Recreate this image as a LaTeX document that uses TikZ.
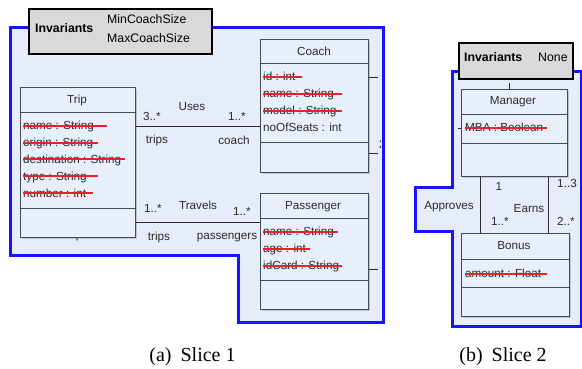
\documentclass[tikz,border=0pt]{standalone}
\usepackage{fontspec}
\setmainfont{Liberation Serif}
\newfontfamily\umlfont{Liberation Sans}
\usetikzlibrary{calc}
\definecolor{sliceblue}{HTML}{1414FF}
\definecolor{slicefill}{HTML}{E6ECFA}
\definecolor{boxfill}{HTML}{E9EFFA}
\definecolor{boxline}{HTML}{434A58}
\definecolor{invfill}{HTML}{D9D9D9}
\definecolor{strikered}{HTML}{E8202A}
\definecolor{txt}{HTML}{2B2B2B}
\tikzset{
 slice/.style={draw=sliceblue, line width=3pt, fill=slicefill, line join=miter},
 umlbox/.style={draw=boxline, line width=1.1pt, fill=boxfill, anchor=north west, inner sep=0pt},
 shadowbox/.style={fill=black!30, draw=none, anchor=north west, inner sep=0pt, opacity=0.7},
 invbox/.style={draw=black, line width=1.6pt, fill=invfill, anchor=north west, inner sep=0pt},
 divider/.style={draw=boxline, line width=0.8pt},
 assoc/.style={draw=txt, line width=0.9pt},
 strikeline/.style={draw=strikered, line width=1.8pt},
 utext/.style={font=\umlfont\fontsize{11.7}{13}\selectfont, inner sep=0pt, text=txt, text height=8.4pt, text depth=2.4pt},
 attr/.style={utext, anchor=west},
 invtext/.style={font=\umlfont\fontsize{12.3}{14}\selectfont, inner sep=0pt, anchor=west, text height=8.8pt, text depth=2.5pt},
 captext/.style={font=\fontsize{20}{24}\selectfont, inner sep=0pt, anchor=base},
}
\begin{document}
\begin{tikzpicture}[x=1pt,y=-1pt]
\useasboundingbox (0,0) rectangle (582,368);
% ---------------- Slice 1 ----------------
\draw[slice] (10,27) -- (383,27) -- (383,322) -- (238,322) -- (238,255) -- (10,255) -- cycle;
\node[utext, font=\umlfont\fontsize{10}{11}\selectfont] (tripstar) at (77,241) {*};
% Trip
\node[shadowbox, minimum width=115, minimum height=150] (tripsh) at (22,89) {};
\node[umlbox, minimum width=115, minimum height=150] (trip) at (20,87) {};
\node[utext] (triptitle) at (77,100) {Trip};
\draw[divider] (trip.west |- 0,112) -- (trip.east |- 0,112);
\node[attr] (t1) at (23,126) {name : String};
\node[attr] (t2) at (23,143) {origin : String};
\node[attr] (t3) at (23,160) {destination : String};
\node[attr] (t4) at (23,177) {type : String};
\node[attr] (t5) at (23,194) {number : int};
\draw[strikeline] (23,126) -- (107,126);
\draw[strikeline] (23,143) -- (98,143);
\draw[strikeline] (23,159) -- (125,159);
\draw[strikeline] (23,176) -- (98,176);
\draw[strikeline] (23,193) -- (93,193);
\draw[divider] (trip.west |- 0,208) -- (trip.east |- 0,208);
% Coach
\node[shadowbox, minimum width=108, minimum height=133] (coachsh) at (262,41) {};
\node[umlbox, minimum width=108, minimum height=133] (coach) at (260,39) {};
\node[utext] (coachtitle) at (314,52) {Coach};
\draw[divider] (coach.west |- 0,63) -- (coach.east |- 0,63);
\node[attr] (c1) at (263,77) {id : int};
\node[attr] (c2) at (263,94) {name : String};
\node[attr] (c3) at (263,111) {model : String};
\node[attr] (c4) at (263,128) {noOfSeats : int};
\draw[strikeline] (263,77) -- (302,77);
\draw[strikeline] (263,94) -- (342,94);
\draw[strikeline] (263,111) -- (342,111);
\draw[divider] (coach.west |- 0,142) -- (coach.east |- 0,142);
% Passenger
\node[shadowbox, minimum width=108, minimum height=116] (passsh) at (262,195) {};
\node[umlbox, minimum width=108, minimum height=116] (pass) at (260,193) {};
\node[utext] (passtitle) at (313,206) {Passenger};
\draw[divider] (pass.west |- 0,218) -- (pass.east |- 0,218);
\node[attr] (p1) at (263,232) {name : String};
\node[attr] (p2) at (263,249) {age : int};
\node[attr] (p3) at (263,266) {idCard : String};
\draw[strikeline] (263,232) -- (338,232);
\draw[strikeline] (263,249) -- (310,249);
\draw[strikeline] (263,266) -- (342,266);
\draw[divider] (pass.west |- 0,280) -- (pass.east |- 0,280);
% associations
\draw[assoc] (trip.east |- 0,126) -- (coach.west |- 0,126);
\node[utext] (uses) at (192,107) {Uses};
\node[utext] (m1) at (152,117) {3..*};
\node[utext] (m2) at (237,117) {1..*};
\node[utext] (r1) at (157,140) {trips};
\node[utext] (r2) at (234,141) {coach};
\draw[assoc] (trip.east |- 0,222) -- (pass.west |- 0,222);
\node[utext] (travels) at (198,206) {Travels};
\node[utext] (m3) at (153,209) {1..*};
\node[utext] (m4) at (242,212) {1..*};
\node[utext] (r3) at (159,237) {trips};
\node[utext] (r4) at (227,236) {passengers};
% stubs leaving the slice
\coordinate (s1) at (378,77);
\coordinate (s2) at (378,153);
\coordinate (s3) at (378,269);
\draw[assoc] (coach.east |- s1) -- (s1);
\draw[assoc] (coach.east |- s2) -- (s2);
\draw[assoc] (pass.east |- s3) -- (s3);
\begin{scope}
\clip (370,130) rectangle (380.5,160);
\node[utext] (two) at (382.5,145) {2};
\end{scope}
% Invariants 1
\node[invbox, minimum width=183, minimum height=45] (inv1) at (28,8) {};
\node[invtext, font=\umlfont\bfseries\fontsize{12.3}{14}\selectfont] (inv1h) at (35,29) {Invariants};
\node[invtext] (inv1a) at (107,20) {MinCoachSize};
\node[invtext] (inv1b) at (107,39) {MaxCoachSize};
% ---------------- Slice 2 ----------------
\draw[slice] (452,71) -- (581,71) -- (581,326) -- (452,326) -- (452,231) -- (415,231) -- (415,187) -- (452,187) -- cycle;
% Manager
\node[shadowbox, minimum width=106, minimum height=87] (mgrsh) at (463,91) {};
\node[umlbox, minimum width=106, minimum height=87] (mgr) at (461,89) {};
\node[utext] (mgrtitle) at (513,101) {Manager};
\draw[divider] (mgr.west |- 0,114) -- (mgr.east |- 0,114);
\node[attr] (mg1) at (465,128) {MBA : Boolean};
\draw[strikeline] (465,128) -- (547,128);
\draw[divider] (mgr.west |- 0,143) -- (mgr.east |- 0,143);
% Bonus
\node[shadowbox, minimum width=108, minimum height=83] (bonsh) at (463,235) {};
\node[umlbox, minimum width=108, minimum height=83] (bonus) at (461,233) {};
\node[utext] (bontitle) at (514,246) {Bonus};
\draw[divider] (bonus.west |- 0,259) -- (bonus.east |- 0,259);
\node[attr] (b1) at (465,274) {amount : Float};
\draw[strikeline] (465,274) -- (547,274);
\draw[divider] (bonus.west |- 0,287) -- (bonus.east |- 0,287);
% associations
\draw[assoc] (mgr.south -| 480,0) -- (bonus.north -| 480,0);
\draw[assoc] (mgr.south -| 548,0) -- (bonus.north -| 548,0);
\node[utext] (appr) at (449,206) {Approves};
\node[utext] (q1) at (499,187) {1};
\node[utext] (q2) at (500,222) {1..*};
\node[utext] (earns) at (529,209) {Earns};
\node[utext] (q3) at (567,184) {1..3};
\node[utext] (q4) at (566,222) {2..*};
% stubs
\coordinate (u1) at (509,83);
\draw[assoc] (u1) -- (mgr.north -| u1);
\coordinate (u2) at (458,128);
\draw[assoc] (u2) -- (mgr.west |- u2);
% Invariants 2
\node[invbox, minimum width=114, minimum height=36] (inv2) at (458,42) {};
\node[invtext, font=\umlfont\bfseries\fontsize{12.3}{14}\selectfont] (inv2h) at (464,58) {Invariants};
\node[invtext] (inv2a) at (538,58) {None};
% ---------------- captions ----------------
\node[captext] (cap1) at (192.5,361) {(a)\hspace{0.45em}Slice 1};
\node[captext] (cap2) at (503,361) {(b)\hspace{0.45em}Slice 2};
\end{tikzpicture}
\end{document}
